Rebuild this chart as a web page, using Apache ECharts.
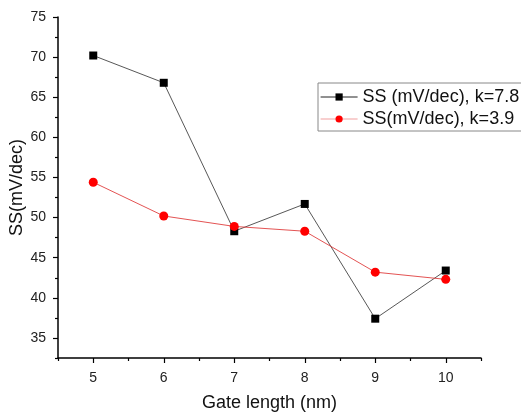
<!DOCTYPE html>
<html><head><meta charset="utf-8">
<script src="https://cdn.jsdelivr.net/npm/echarts@6/dist/echarts.min.js"></script>
<style>html,body{margin:0;padding:0;background:#fff}#c{width:521px;height:412px}</style>
</head><body><div id="c"></div>
<script>
const gateLength = [5, 6, 7, 8, 9, 10];
const ssK78 = [70.2, 66.8, 48.3, 51.7, 37.4, 43.4];
const ssK39 = [54.4, 50.2, 48.9, 48.3, 43.2, 42.3];
const xTicks = [5, 6, 7, 8, 9, 10];
const xMinorTicks = [4.5, 5.5, 6.5, 7.5, 8.5, 9.5, 10.5];
const yTicks = [35, 40, 45, 50, 55, 60, 65, 70, 75];
const yMinorTicks = [32.5, 37.5, 42.5, 47.5, 52.5, 57.5, 62.5, 67.5, 72.5];
const seriesNames = ['SS (mV/dec), k=7.8', 'SS(mV/dec), k=3.9'];

const font = 'Liberation Sans';
const chart = echarts.init(document.getElementById('c'), null, {renderer: 'canvas'});
const axLine = {show: true, lineStyle: {color: '#000', width: 1.5}};
chart.setOption({
  animation: false,
  textStyle: {fontFamily: font},
  grid: {left: 58, top: 17, right: 40, bottom: 54, containLabel: false, outerBoundsMode: 'none'},
  legend: {
    left: 318, top: 83,
    orient: 'vertical',
    data: [
      {name: seriesNames[0], lineStyle: {color: '#222', width: 1}},
      {name: seriesNames[1], lineStyle: {color: '#f2a0a0', width: 1.2}}
    ],
    itemWidth: 37, itemHeight: 9, itemGap: 4,
    padding: [5, 8, 3, 2],
    borderColor: '#888', borderWidth: 1,
    textStyle: {fontFamily: font, fontSize: 18, color: '#111'}
  },
  xAxis: [{
    type: 'value', min: 4.5, max: 10.5,
    name: 'Gate length (nm)', nameLocation: 'middle', nameGap: 36,
    nameTextStyle: {fontFamily: font, fontSize: 18, color: '#111'},
    axisLine: axLine,
    axisTick: {show: true, customValues: xTicks, length: 5, lineStyle: {color: '#000', width: 1.2}},
    axisLabel: {customValues: xTicks, fontFamily: font, fontSize: 14, color: '#222', margin: 13},
    splitLine: {show: false}
  }, {
    type: 'value', min: 4.5, max: 10.5, position: 'bottom',
    axisLine: {show: false},
    axisTick: {show: true, customValues: xMinorTicks, length: 3, lineStyle: {color: '#000', width: 1.2}},
    axisLabel: {show: false},
    splitLine: {show: false}
  }],
  yAxis: [{
    type: 'value', min: 32.5, max: 75,
    name: 'SS(mV/dec)', nameLocation: 'middle', nameGap: 32, nameMoveOverlap: false,
    nameTextStyle: {fontFamily: font, fontSize: 18, color: '#111'},
    axisLine: axLine,
    axisTick: {show: true, customValues: yTicks, length: 5, lineStyle: {color: '#000', width: 1.2}},
    axisLabel: {customValues: yTicks, fontFamily: font, fontSize: 14, color: '#222', margin: 12},
    splitLine: {show: false}
  }, {
    type: 'value', min: 32.5, max: 75, position: 'left',
    axisLine: {show: false},
    axisTick: {show: true, customValues: yMinorTicks, length: 3, lineStyle: {color: '#000', width: 1.2}},
    axisLabel: {show: false},
    splitLine: {show: false}
  }],
  series: [{
    name: seriesNames[0], type: 'line',
    data: gateLength.map((x, i) => [x, ssK78[i]]),
    symbol: 'rect', symbolSize: 8,
    itemStyle: {color: '#000'},
    lineStyle: {color: '#444', width: 0.9}
  }, {
    name: seriesNames[1], type: 'line',
    data: gateLength.map((x, i) => [x, ssK39[i]]),
    symbol: 'circle', symbolSize: 9,
    itemStyle: {color: '#f00'},
    lineStyle: {color: '#e04040', width: 0.9}
  }]
});
</script></body></html>
